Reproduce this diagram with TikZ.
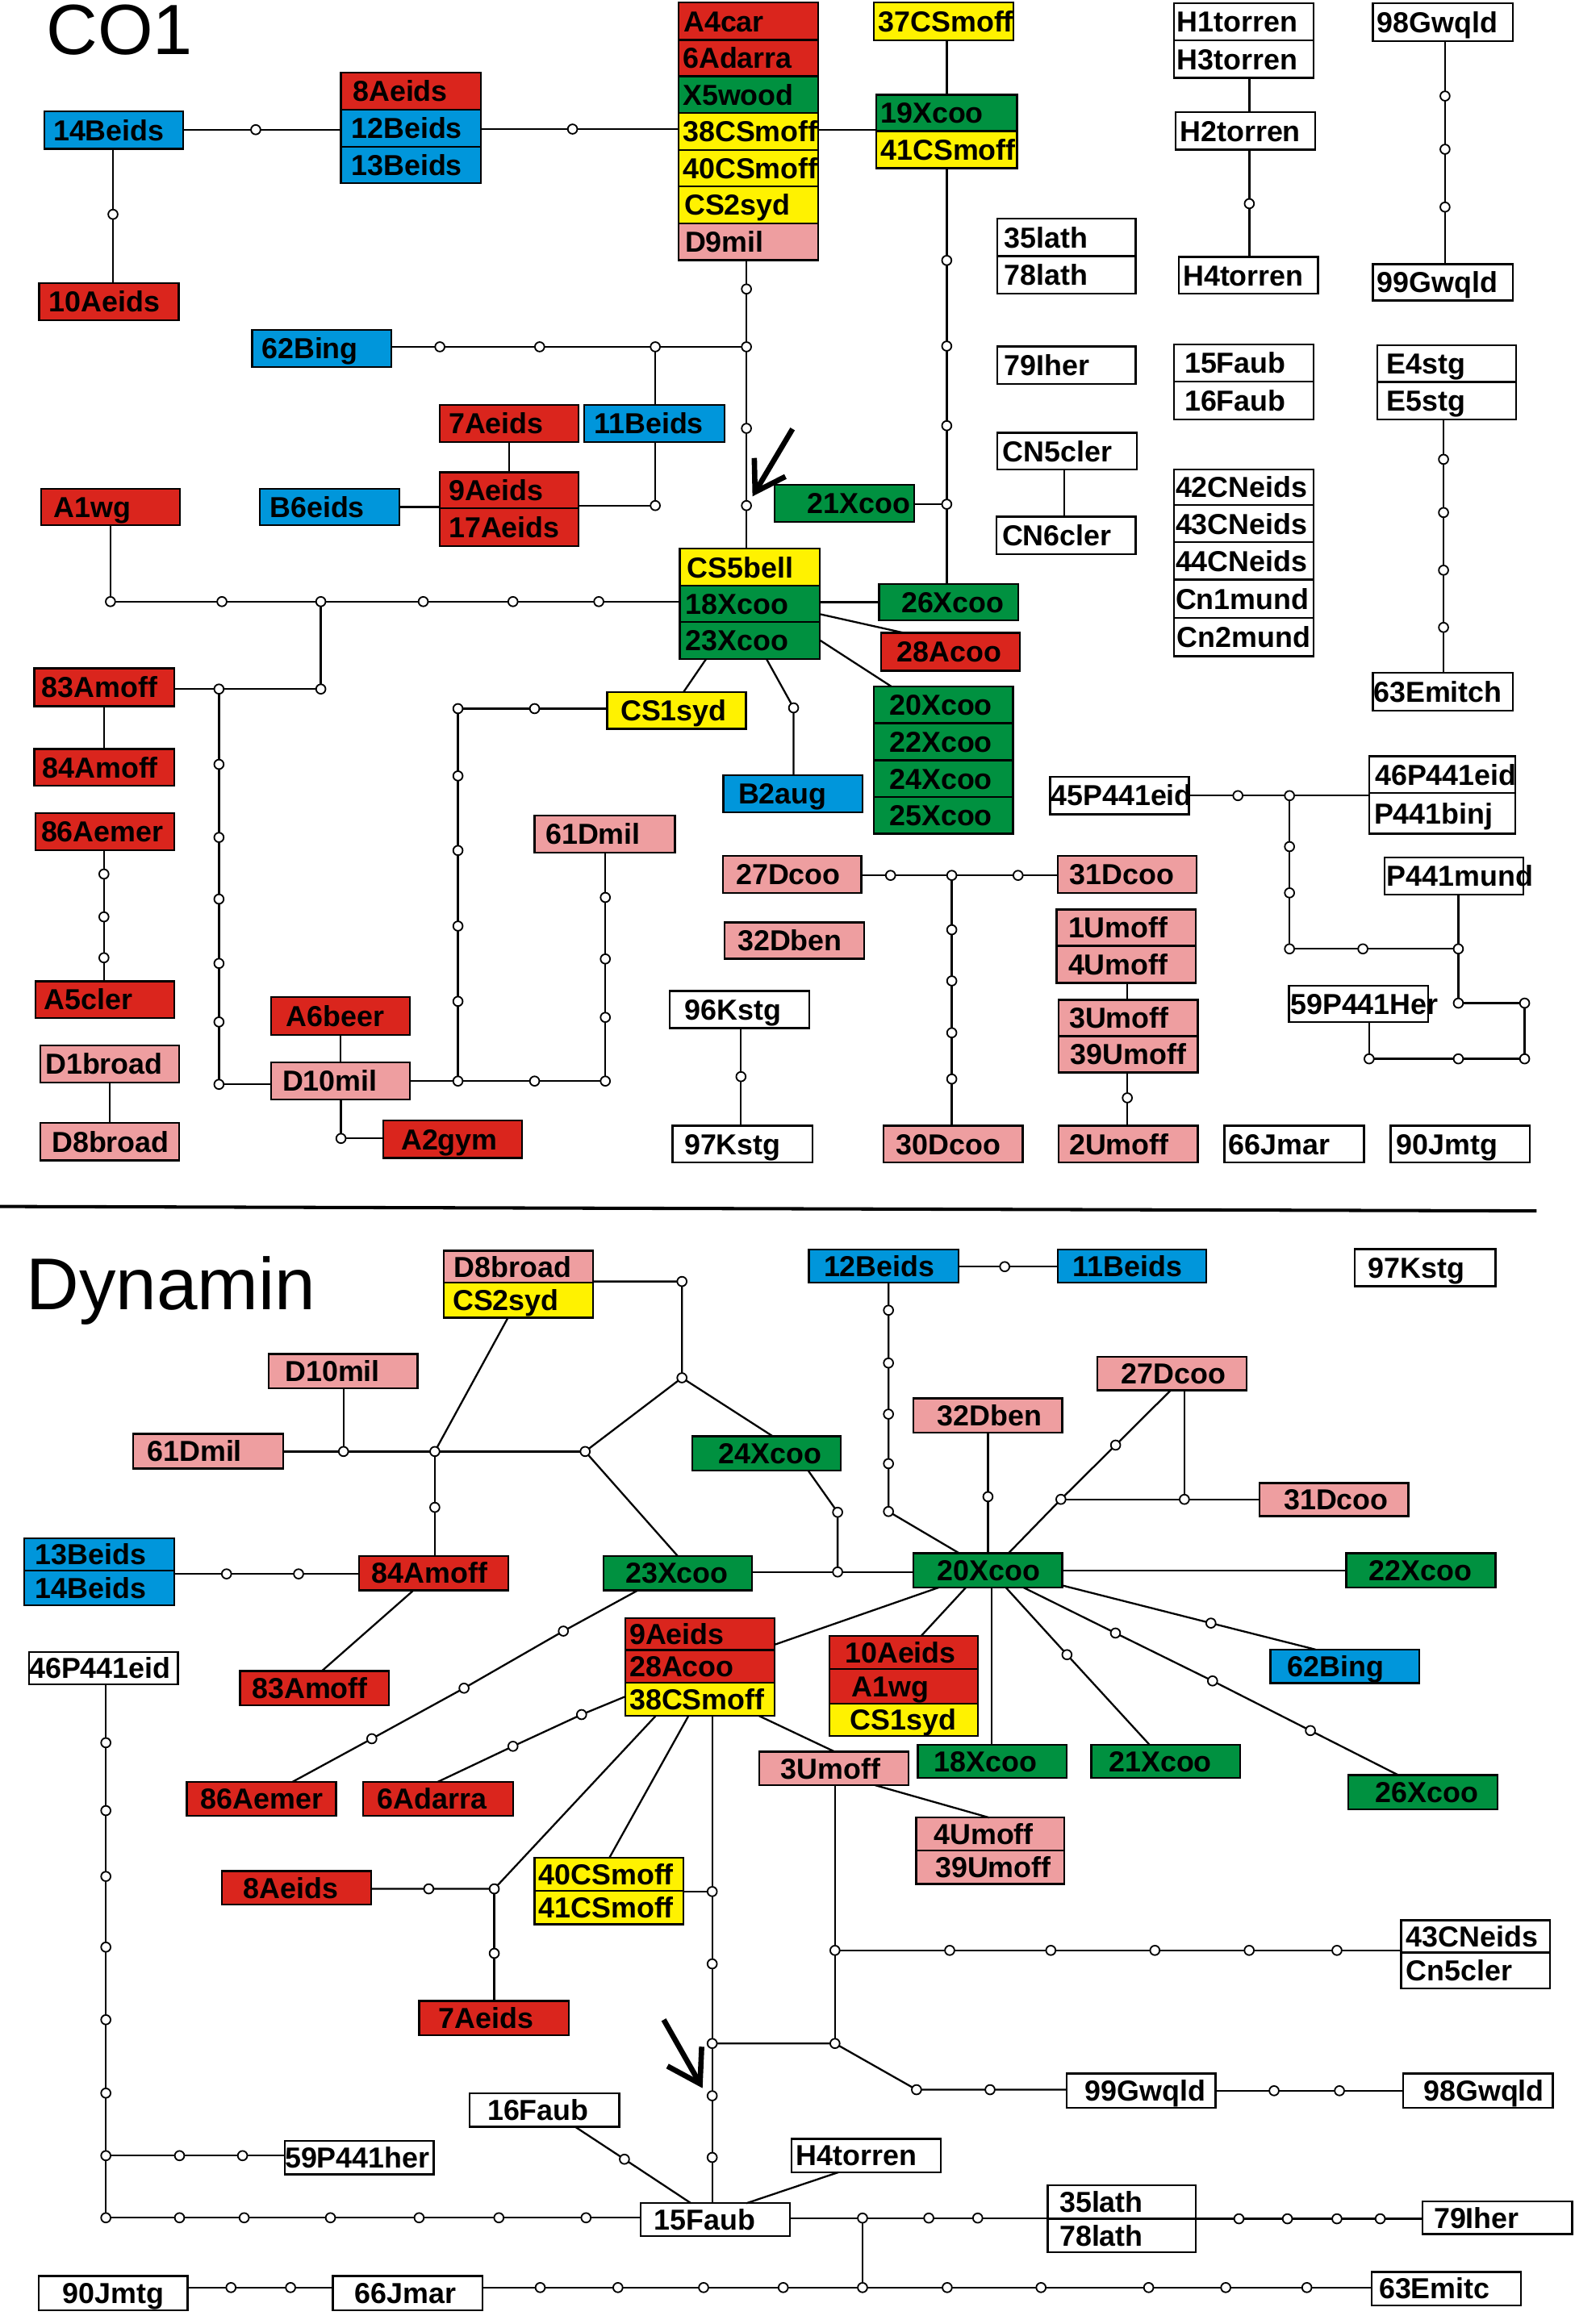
\documentclass[tikz,border=0pt]{standalone}
\usepackage{fontspec}
\setmainfont{Liberation Sans}
\usetikzlibrary{calc}
\definecolor{cR}{RGB}{218,37,29}
\definecolor{cB}{RGB}{0,150,219}
\definecolor{cG}{RGB}{0,145,64}
\definecolor{cY}{RGB}{255,242,0}
\definecolor{cP}{RGB}{238,158,160}
\newcommand\lab{\bfseries\fontsize{19.5}{20}\selectfont}
\tikzset{
  bxs/.style={draw=black, line width=1.3pt, inner ysep=0pt, outer sep=0pt, align=left, text height=14pt, text depth=0pt, font=\lab},
  dotn/.style={circle, draw=black, fill=white, line width=1pt, minimum size=6.4pt, inner sep=0pt, outer sep=0pt},
  ln/.style={line width=1.25pt, black},
  bigarr/.style={line width=3.6pt, line join=miter, black}
}
\newcommand\bx[8]{%
  \pgfmathsetmacro\bxw{#4-#2}%
  \pgfmathsetmacro\bxh{#5-#3}%
  \pgfmathsetmacro\bxt{#4-#2-2*#6}%
  \node[bxs,fill=#7,minimum width=\bxw pt,minimum height=\bxh pt,text width=\bxt pt,inner xsep=#6pt,anchor=north west] (#1) at (#2,#3) {#8};}
\newcommand\dt[3]{\node[dotn] (#1) at (#2,#3) {};}
\begin{document}
\begin{tikzpicture}[x=1pt,y=-1pt]
\useasboundingbox (0,0) rectangle (1062,1568);
\fill[white] (0,0) rectangle (1062,1568);
% titles
\node[anchor=base west, inner sep=0pt, font=\fontsize{48}{50}\selectfont] (ttl1) at (31,37) {CO1};
\node[anchor=base west, inner sep=0pt, font=\fontsize{49.5}{52}\selectfont] (ttl2) at (17.5,883.7) {Dynamin};
% divider
\coordinate (dv1) at (0,814); \coordinate (dv2) at (1036.4,817);
\draw[line width=2.2pt] (dv1) -- (dv2);

% ================= TOP (CO1) boxes =================
\bx{t14B}{30}{75}{123.5}{100.5}{6}{cB}{14Beids}
\bx{t8A}{230}{49}{324.5}{74}{8}{cR}{8Aeids}
\bx{t12B}{230}{74}{324.5}{99}{7}{cB}{12Beids}
\bx{t13B}{230}{99}{324.5}{123.5}{7}{cB}{13Beids}
\bx{t10A}{26.5}{191}{120.5}{216}{6.5}{cR}{10Aeids}
\bx{t62B}{170}{222.5}{264}{247.7}{6.5}{cB}{62Bing}
\bx{tA4}{457.6}{1.8}{551.8}{27}{3.5}{cR}{A4car}
\bx{t6A}{457.6}{27}{551.8}{51.4}{3}{cR}{6Adarra}
\bx{tX5}{457.6}{51.4}{551.8}{76.2}{3}{cG}{X5wood}
\bx{t38}{457.6}{76.2}{551.8}{101.2}{3}{cY}{38CSmoff}
\bx{t40}{457.6}{101.2}{551.8}{125.6}{3}{cY}{40CSmoff}
\bx{tCS2}{457.6}{125.6}{551.8}{150.6}{4}{cY}{CS2syd}
\bx{tD9}{457.6}{150.6}{551.8}{175.6}{4.5}{cP}{D9mil}
\bx{t37}{589.5}{1.8}{683.7}{27.2}{3}{cY}{37CSmoff}
\bx{t19X}{591}{63.9}{686}{88.5}{3}{cG}{19Xcoo}
\bx{t41}{591}{88.5}{686}{113.4}{3}{cY}{41CSmoff}
\bx{tH1}{792}{2.2}{886}{27.2}{2}{white}{H1torren}
\bx{tH3}{792}{27.2}{886}{52.6}{2}{white}{H3torren}
\bx{tH2}{793}{75.7}{887}{101}{3}{white}{H2torren}
\bx{tH4}{795}{173.3}{889}{198.2}{3}{white}{H4torren}
\bx{t98G}{926}{2.2}{1020.5}{27.6}{3}{white}{98Gwqld}
\bx{t99G}{926}{178.2}{1020.5}{202.7}{3}{white}{99Gwqld}
\bx{t35l}{672.8}{147.5}{766}{172.7}{4.5}{white}{35lath}
\bx{t78l}{672.8}{172.7}{766}{198.2}{4.5}{white}{78lath}
\bx{t79I}{672.8}{233.7}{766}{259.1}{4.5}{white}{79Iher}
\bx{t15F}{792}{232.3}{886}{257.4}{7}{white}{15Faub}
\bx{t16F}{792}{257.4}{886}{283}{7}{white}{16Faub}
\bx{tE4}{929}{232.8}{1022.6}{257.7}{6.5}{white}{E4stg}
\bx{tE5}{929}{257.7}{1022.6}{283}{6.5}{white}{E5stg}
\bx{tCN5}{672.8}{292}{767}{316.8}{3.6}{white}{CN5cler}
\bx{tCN6}{672}{348.6}{766}{374}{4}{white}{CN6cler}
\bx{tC42}{792}{316.8}{886}{340.8}{1}{white}{42CNeids}
\bx{tC43}{792}{340.8}{886}{365.8}{1}{white}{43CNeids}
\bx{tC44}{792}{365.8}{886}{391}{1}{white}{44CNeids}
\bx{tCn1}{792}{391}{886}{417}{1}{white}{Cn1mund}
\bx{tCn2}{792}{417}{886}{442.7}{2}{white}{Cn2mund}
\bx{t63E}{926}{454}{1020.5}{479.4}{0.5}{white}{63Emitch}
\bx{t21X}{522.6}{327.2}{616.6}{352}{22}{cG}{21Xcoo}
\bx{t26X}{593}{394}{686.7}{418.6}{15}{cG}{26Xcoo}
\bx{t28A}{594.2}{427}{688}{452.5}{11}{cR}{28Acoo}
\bx{t20X}{589.5}{463}{683.2}{488}{10.5}{cG}{20Xcoo}
\bx{t22X}{589.5}{488}{683.2}{513}{10.5}{cG}{22Xcoo}
\bx{t24X}{589.5}{513}{683.2}{537.8}{10.5}{cG}{24Xcoo}
\bx{t25X}{589.5}{537.8}{683.2}{562.5}{10.5}{cG}{25Xcoo}
\bx{tB2}{488}{523}{581.8}{548}{10}{cB}{B2aug}
\bx{t45P}{708.4}{524}{802}{549.4}{0.5}{white}{45P441eid}
\bx{t46P}{923.5}{510.3}{1022}{535}{4}{white}{46P441eid}
\bx{tP441b}{923.5}{535}{1022}{562.5}{3.4}{white}{P441binj}
\bx{tP441m}{933.8}{578.5}{1027.4}{603.7}{1.7}{white}{P441mund}
\bx{t59P}{869.4}{665}{963.3}{689.5}{1}{white}{59P441Her}
\bx{t27D}{487.5}{577.4}{581}{602.6}{9}{cP}{27Dcoo}
\bx{t31D}{713.6}{577.4}{807.2}{602.6}{8}{cP}{31Dcoo}
\bx{t32D}{488.6}{622.4}{582.8}{646.9}{9}{cP}{32Dben}
\bx{t1U}{712.6}{613.7}{806.5}{638.2}{8}{cP}{1Umoff}
\bx{t4U}{712.6}{638.2}{806.5}{663.2}{8}{cP}{4Umoff}
\bx{t3U}{714.2}{674.6}{807.9}{699}{7}{cP}{3Umoff}
\bx{t39U}{714.2}{699}{807.9}{723.5}{8}{cP}{39Umoff}
\bx{t2U}{714.2}{759.4}{807.9}{784.3}{7}{cP}{2Umoff}
\bx{t30D}{595.9}{759.4}{689.8}{784.3}{8.6}{cP}{30Dcoo}
\bx{t66J}{825.8}{759.4}{920}{784.3}{3}{white}{66Jmar}
\bx{t90J}{938}{759.4}{1031.9}{784.3}{4}{white}{90Jmtg}
\bx{t96K}{451.8}{668.6}{546}{693.7}{10}{white}{96Kstg}
\bx{t97K}{453.6}{759.4}{548}{784.3}{8}{white}{97Kstg}
\bx{t86A}{23.8}{548.7}{117.7}{573.6}{4}{cR}{86Aemer}
\bx{tA5}{23.8}{662}{117.7}{686.8}{6}{cR}{A5cler}
\bx{tD1}{27.2}{705.3}{120.8}{730.4}{3.4}{cP}{D1broad}
\bx{tD8}{27.2}{757.6}{120.8}{783}{7.8}{cP}{D8broad}
\bx{tD10}{183}{716.7}{276.6}{741.8}{7.5}{cP}{D10mil}
\bx{tA6}{183}{672.8}{276.6}{698.2}{10}{cR}{A6beer}
\bx{tA2}{258.6}{756}{352.2}{781.2}{12}{cR}{A2gym}
\bx{t61D}{360.6}{550.4}{455.2}{575.2}{7.4}{cP}{61Dmil}
\bx{t7A}{296.7}{273.1}{390.3}{298.3}{6}{cR}{7Aeids}
\bx{t11B}{394}{273.1}{488.9}{298.3}{6.8}{cB}{11Beids}
\bx{t9A}{296.7}{318.6}{390.3}{343}{6}{cR}{9Aeids}
\bx{t17A}{296.7}{343}{390.3}{368.4}{6}{cR}{17Aeids}
\bx{tB6}{175.2}{329.7}{269.5}{354.4}{6.8}{cB}{B6eids}
\bx{tA1}{27.9}{329.7}{121.5}{354.4}{8.5}{cR}{A1wg}
\bx{t83A}{23.1}{451}{117.4}{476.5}{5}{cR}{83Amoff}
\bx{t84A}{23.1}{505.4}{117.4}{530.2}{5.5}{cR}{84Amoff}
\bx{tCS5}{458.6}{370.2}{552.8}{395.2}{5}{cY}{CS5bell}
\bx{t18X}{458.6}{395.2}{552.8}{419.7}{4}{cG}{18Xcoo}
\bx{t23X}{458.6}{419.7}{552.8}{444.6}{4}{cG}{23Xcoo}
\bx{tCS1}{409.6}{467}{503.2}{491.7}{9}{cY}{CS1syd}

% ================= TOP dots =================
\dt{a1}{172.5}{87.5}
\dt{a2}{386.2}{87.1}
\dt{a4}{76.2}{144.6}
\dt{b1}{638.6}{175.7} \dt{b2}{638.6}{233.5} \dt{b3}{638.6}{287.2} \dt{b4}{638.6}{340.2}
\dt{c1}{503.5}{195} \dt{c2}{503.5}{234} \dt{c3}{503.5}{289} \dt{c4}{503.5}{341.1}
\dt{c5}{296.7}{234} \dt{c6}{364}{234} \dt{c7}{442}{234} \dt{c8}{442}{341.1}
\dt{d1}{74.5}{405.9} \dt{d2}{149.7}{405.9} \dt{d3}{216.4}{405.9} \dt{d4}{285.5}{405.9} \dt{d5}{346}{405.9} \dt{d6}{403.9}{405.9}
\dt{e1}{216.4}{464.9} \dt{e2}{147.7}{464.9} \dt{e3}{147.7}{515.7} \dt{e4}{147.7}{565} \dt{e5}{147.7}{606.6} \dt{e6}{147.7}{650} \dt{e7}{147.7}{689.5} \dt{e8}{147.7}{731.6}
\dt{f1}{70.1}{589.7} \dt{f2}{70.1}{618.6} \dt{f3}{70.1}{646.2}
\dt{g1}{230}{768.1} \dt{g2}{308.9}{729.4} \dt{g3}{360.6}{729.4} \dt{g4}{408.3}{729.4}
\dt{g5}{408.3}{686.4} \dt{g6}{408.3}{647} \dt{g7}{408.3}{605.5}
\dt{h1}{308.9}{675.6} \dt{h2}{308.9}{624.8} \dt{h3}{308.9}{573.8} \dt{h4}{308.9}{523.5} \dt{h5}{308.9}{478.1} \dt{h6}{360.6}{478.1}
\dt{h7}{535.3}{477.6}
\dt{i1}{842.7}{137.4}
\dt{i2}{974.7}{64.8} \dt{i3}{974.7}{100.7} \dt{i4}{974.7}{139.7}
\dt{i5}{973.7}{309.9} \dt{i6}{973.7}{345.8} \dt{i7}{973.7}{384.7} \dt{i8}{973.7}{423.3}
\dt{j1}{600.7}{590.6} \dt{j2}{642}{590.6} \dt{j3}{686.7}{590.6}
\dt{j4}{642}{627.3} \dt{j5}{642}{661.8} \dt{j6}{642}{696.8} \dt{j7}{642}{728}
\dt{k1}{760.4}{740.7} \dt{k2}{499.8}{726.4}
\dt{l1}{835}{536.8} \dt{l2}{869.8}{536.8} \dt{l3}{869.8}{571.2} \dt{l4}{869.8}{602.4} \dt{l5}{869.8}{640.2}
\dt{l6}{919.3}{640.2} \dt{l7}{983.7}{640.2} \dt{l8}{983.7}{676.8} \dt{l9}{1028.4}{676.8}
\dt{l10}{1028.4}{714.4} \dt{l11}{983.7}{714.4} \dt{l12}{923.5}{714.4}
\coordinate (a3) at (570,87.5);
\coordinate (a5) at (638.6,40);
\coordinate (i9) at (718,330);

% ================= TOP connectors =================
\draw[ln] (t14B.east |- a1) -- (a1) -- (t12B.west |- a1);
\draw[ln] (t12B.east |- a2) -- (a2) -- (t38.west |- a2);
\draw[ln] (t38.east |- a3) -- (t19X.west |- a3);
\draw[ln] (t14B.south -| a4) -- (a4) -- (t10A.north -| a4);
\draw[ln] (t37.south -| a5) -- (t19X.north -| a5);
\draw[ln] (t41.south -| b1) -- (b1) -- (b2) -- (b3) -- (b4) -- (t26X.north -| b4);
\draw[ln] (t21X.east |- b4) -- (b4);
\draw[ln] (tD9.south -| c1) -- (c1) -- (c2) -- (c3) -- (c4) -- (tCS5.north -| c4);
\draw[ln] (t62B.east |- c5) -- (c5) -- (c6) -- (c7) -- (c2);
\draw[ln] (c7) -- (t11B.north -| c7);
\draw[ln] (t11B.south -| c8) -- (c8) -- (t9A.east |- c8);
\draw[ln] (t7A.south) -- (t9A.north);
\draw[ln] (tB6.east) -- (tB6.east -| t9A.west);
\draw[ln] (tA1.south -| d1) -- (d1) -- (d2) -- (d3) -- (d4) -- (d5) -- (d6) -- (t18X.west |- d6);
\draw[ln] (d3) -- (e1) -- (e2) -- (t83A.east |- e2);
\draw[ln] (t83A.south) -- (t84A.north);
\draw[ln] (e2) -- (e3) -- (e4) -- (e5) -- (e6) -- (e7) -- (e8) -- (tD10.west |- e8);
\draw[ln] (t86A.south -| f1) -- (f1) -- (f2) -- (f3) -- (tA5.north -| f1);
\draw[ln] (tD1.south) -- (tD8.north);
\draw[ln] (tA6.south) -- (tD10.north);
\draw[ln] (tD10.south -| g1) -- (g1) -- (tA2.west |- g1);
\draw[ln] (tD10.east |- g2) -- (g2) -- (g3) -- (g4) -- (g5) -- (g6) -- (g7) -- (t61D.south -| g7);
\draw[ln] (g2) -- (h1) -- (h2) -- (h3) -- (h4) -- (h5) -- (h6) -- (tCS1.west |- h6);
\draw[ln] ($(t23X.south west)+(17.7,0)$) -- ($(tCS1.north west)+(51.4,0)$);
\draw[ln] ($(t23X.south west)+(58.4,0)$) -- (h7) -- (tB2.north -| h7);
\draw[ln] (t26X.west -| t18X.east) -- (t26X.west);
\draw[ln] ($(t18X.south east)+(0,-5.4)$) -- ($(t28A.north west)+(15.5,0)$);
\draw[ln] ($(t23X.north east)+(0,12.1)$) -- ($(t20X.north west)+(11.5,0)$);
\draw[ln] (tH3.south -| i1) -- (tH2.north -| i1);
\draw[ln] (tH2.south -| i1) -- (i1) -- (tH4.north -| i1);
\draw[ln] (t98G.south -| i2) -- (i2) -- (i3) -- (i4) -- (t99G.north -| i4);
\draw[ln] (tE5.south -| i5) -- (i5) -- (i6) -- (i7) -- (i8) -- (t63E.north -| i8);
\draw[ln] (tCN5.south -| i9) -- (tCN6.north -| i9);
\draw[ln] (t27D.east |- j1) -- (j1) -- (j2) -- (j3) -- (t31D.west |- j3);
\draw[ln] (j2) -- (j4) -- (j5) -- (j6) -- (j7) -- (t30D.north -| j7);
\draw[ln] (t4U.south -| k1) -- (t3U.north -| k1);
\draw[ln] (t39U.south -| k1) -- (k1) -- (t2U.north -| k1);
\draw[ln] (t96K.south -| k2) -- (k2) -- (t97K.north -| k2);
\draw[ln] (t45P.east |- l1) -- (l1) -- (l2) -- (tP441b.west |- l2);
\draw[ln] (l2) -- (l3) -- (l4) -- (l5) -- (l6) -- (l7);
\draw[ln] (tP441m.south -| l7) -- (l7) -- (l8) -- (l9) -- (l10) -- (l11) -- (l12) -- (t59P.south -| l12);
% top arrow
\coordinate (ar1) at (534.6,289.4); \coordinate (ar2) at (509.3,332);
\coordinate (ar3) at (529.8,321.5); \coordinate (ar4) at (508.8,309);
\draw[bigarr] (ar1) -- (ar2);
\draw[bigarr] (ar3) -- (ar2) -- (ar4);

% ================= BOTTOM (Dynamin) boxes =================
\bx{bD8}{299.4}{843.8}{400.1}{865.5}{7}{cP}{D8broad}
\bx{bCS2}{299.4}{865.5}{400.1}{889.1}{6}{cY}{CS2syd}
\bx{bD10}{181.3}{913.6}{281.7}{936.7}{11}{cP}{D10mil}
\bx{b61D}{89.8}{967.5}{190.9}{990.7}{9.5}{cP}{61Dmil}
\bx{b13B}{16.3}{1037.9}{117.4}{1059.7}{7.5}{cB}{13Beids}
\bx{b14B}{16.3}{1059.7}{117.4}{1083}{7.5}{cB}{14Beids}
\bx{b84A}{242.2}{1049.7}{342.9}{1072.9}{8.5}{cR}{84Amoff}
\bx{b23X}{407.2}{1049.7}{507.3}{1072.9}{14.7}{cG}{23Xcoo}
\bx{b24X}{466.8}{969}{567.2}{992}{18}{cG}{24Xcoo}
\bx{b12B}{545.7}{843.2}{646.5}{865.5}{10}{cB}{12Beids}
\bx{b11B}{713.6}{843.2}{813.7}{865.5}{10}{cB}{11Beids}
\bx{b97K}{913.8}{842.7}{1008.8}{867.7}{9}{white}{97Kstg}
\bx{b32D}{616.2}{943.5}{716.6}{966.6}{16}{cP}{32Dben}
\bx{b27D}{740.3}{915.4}{840.8}{938.1}{16}{cP}{27Dcoo}
\bx{b31D}{849.5}{1000.7}{949.9}{1022.9}{16.5}{cP}{31Dcoo}
\bx{b20X}{616.2}{1048}{716.6}{1071}{16}{cG}{20Xcoo}
\bx{b22X}{908}{1048}{1008.8}{1071}{15.4}{cG}{22Xcoo}
\bx{b46P}{19.7}{1114.5}{120.1}{1136.5}{0}{white}{46P441eid}
\bx{b83A}{162}{1127.4}{262.3}{1150.4}{8}{cR}{83Amoff}
\bx{b86A}{125.9}{1202.2}{226.6}{1225.2}{9.5}{cR}{86Aemer}
\bx{b6A}{245}{1202.2}{346}{1225.2}{9.5}{cR}{6Adarra}
\bx{b9A}{421.9}{1091.8}{522.6}{1113.2}{2.7}{cR}{9Aeids}
\bx{b28A}{421.9}{1113.2}{522.6}{1135.4}{2.7}{cR}{28Acoo}
\bx{b38}{421.9}{1135.4}{522.6}{1157.7}{2.7}{cY}{38CSmoff}
\bx{b8A}{149.7}{1262.4}{250.4}{1285.1}{14.6}{cR}{8Aeids}
\bx{b40}{360.6}{1253.5}{461}{1275.6}{2.8}{cY}{40CSmoff}
\bx{b41}{360.6}{1275.6}{461}{1298.3}{2.8}{cY}{41CSmoff}
\bx{b10A}{559.4}{1103.8}{659.6}{1125.9}{10.6}{cR}{10Aeids}
\bx{bA1}{559.4}{1125.9}{659.6}{1149.5}{15}{cR}{A1wg}
\bx{bCS1}{559.4}{1149.5}{659.6}{1171.3}{14}{cY}{CS1syd}
\bx{b18X}{619}{1177.3}{719.4}{1199.4}{11}{cG}{18Xcoo}
\bx{b21X}{736}{1177.3}{836.4}{1199.4}{12}{cG}{21Xcoo}
\bx{b62B}{857}{1112.9}{957.2}{1135.6}{11.4}{cB}{62Bing}
\bx{b26X}{909.4}{1197.6}{1010.2}{1220.8}{18.5}{cG}{26Xcoo}
\bx{b3U}{512}{1181.8}{612.7}{1204.5}{14.7}{cP}{3Umoff}
\bx{b4U}{617.9}{1226.3}{718}{1248.4}{12}{cP}{4Umoff}
\bx{b39U}{617.9}{1248.4}{718}{1271.1}{13}{cP}{39Umoff}
\bx{b43CN}{945.1}{1295.6}{1045.6}{1317.4}{3.5}{white}{43CNeids}
\bx{bCn5}{945.1}{1317.4}{1045.6}{1341.5}{3.5}{white}{Cn5cler}
\bx{b7A}{282.7}{1350}{383.8}{1373.2}{13.3}{cR}{7Aeids}
\bx{b59P}{192.2}{1444.4}{292.6}{1467.1}{0}{white}{59P441her}
\bx{b16F}{316.8}{1412.2}{417.8}{1434.9}{12}{white}{16Faub}
\bx{b15F}{432.1}{1486.5}{532.9}{1508.8}{9}{white}{15Faub}
\bx{bH4}{534}{1443}{634.7}{1465.6}{3}{white}{H4torren}
\bx{b99G}{719.4}{1399}{819.9}{1422.2}{12.4}{white}{99Gwqld}
\bx{b98G}{946.5}{1399}{1047.4}{1422.2}{13.8}{white}{98Gwqld}
\bx{b35l}{706.7}{1474.3}{806.5}{1497}{8}{white}{35lath}
\bx{b78l}{706.7}{1497}{806.5}{1519.7}{8}{white}{78lath}
\bx{b79I}{959.6}{1485.2}{1060.4}{1507.3}{7.6}{white}{79Iher}
\bx{b63E}{925.2}{1532.8}{1026}{1555.4}{5}{white}{63Emitc}
\bx{b90J}{26.2}{1535.7}{126.6}{1558.7}{16}{white}{90Jmtg}
\bx{b66J}{224.6}{1535.7}{325.3}{1558.7}{14.6}{white}{66Jmar}

% ================= BOTTOM dots =================
\dt{m1}{460}{864.6} \dt{m2}{460}{929.6} \dt{m3}{394.7}{979.3}
\dt{m4}{231.7}{979.3} \dt{m5}{293.3}{979.3} \dt{m6}{293.3}{1017}
\dt{n1}{152.8}{1061.9} \dt{n2}{201.4}{1061.9} \dt{n3}{565}{1060.6} \dt{n4}{565}{1020.3}
\dt{o1}{677.7}{854.6}
\dt{o2}{599.3}{884} \dt{o3}{599.3}{919.6} \dt{o4}{599.3}{954.1} \dt{o5}{599.3}{987.5} \dt{o6}{599.3}{1019.8}
\dt{o7}{666.4}{1009.8}
\dt{o8}{752.5}{975} \dt{o9}{715.6}{1011.6} \dt{o10}{798.9}{1011.6}
\dt{p1}{719.7}{1116.4}
\dt{p2}{752.4}{1101.8} \dt{p3}{817.9}{1134.1} \dt{p4}{883.9}{1167.6}
\dt{p5}{816.8}{1095.1}
\dt{q1}{250.8}{1173.1} \dt{q2}{313}{1139} \dt{q3}{380}{1100.5}
\dt{q4}{346}{1178.2} \dt{q5}{392.3}{1156.8}
\dt{r1}{289.2}{1274.4} \dt{r2}{333.4}{1274.4} \dt{r3}{333.4}{1317.9}
\dt{s1}{480.4}{1276.2} \dt{s2}{480.4}{1325} \dt{s3}{480.4}{1378.7} \dt{s4}{480.4}{1414} \dt{s5}{480.4}{1455.6}
\dt{u1}{563.2}{1315.9} \dt{u2}{640.6}{1315.9} \dt{u3}{708.8}{1315.9} \dt{u4}{779}{1315.9} \dt{u5}{842.6}{1315.9} \dt{u6}{901.8}{1315.9}
\dt{u7}{563.2}{1378.7}
\dt{v1}{618.2}{1409.9} \dt{v2}{667.8}{1409.9}
\dt{v3}{859.4}{1410.6} \dt{v4}{903.5}{1410.6}
\dt{w1}{421.2}{1456.8}
\dt{x1}{71.4}{1175.8} \dt{x2}{71.4}{1221.6} \dt{x3}{71.4}{1266} \dt{x4}{71.4}{1313.7}
\dt{x5}{71.4}{1362.7} \dt{x6}{71.4}{1412.2} \dt{x7}{71.4}{1454.4} \dt{x8}{71.4}{1496.3}
\dt{y1}{121.1}{1454.4} \dt{y2}{163.6}{1454.4}
\dt{z1}{121.1}{1496.3} \dt{z2}{164.7}{1496.3} \dt{z3}{222.9}{1496.3} \dt{z4}{282.7}{1496.3} \dt{z5}{336.5}{1496.3} \dt{z6}{395.3}{1496.3}
\dt{aa1}{581.8}{1496.5} \dt{aa2}{626.5}{1496.5} \dt{aa3}{659.5}{1496.5}
\dt{ab1}{835.7}{1497} \dt{ab2}{868.4}{1497} \dt{ab3}{901.8}{1497} \dt{ab4}{931}{1497}
\dt{ac1}{155.8}{1543.4} \dt{ac2}{196}{1543.4} \dt{ac3}{364.4}{1543.4} \dt{ac4}{416.8}{1543.4}
\dt{ac5}{474.6}{1543.4} \dt{ac6}{528.3}{1543.4} \dt{ac7}{581.8}{1543.4} \dt{ac8}{638.9}{1543.4}
\dt{ac9}{702.2}{1543.4} \dt{ac10}{774.8}{1543.4} \dt{ac11}{826.8}{1543.4} \dt{ac12}{881.5}{1543.4}

% ================= BOTTOM connectors =================
\draw[ln] (bD8.east |- m1) -- (m1) -- (m2) -- (m3);
\draw[ln] (m2) -- ($(b24X.north west)+(54.4,0)$);
\draw[ln] (b61D.east |- m4) -- (m4) -- (m5) -- (m3);
\draw[ln] (bD10.south -| m4) -- (m4);
\draw[ln] ($(bCS2.south west)+(43.2,0)$) -- (m5);
\draw[ln] (m3) -- ($(b23X.north west)+(49.8,0)$);
\draw[ln] (m5) -- (m6) -- (b84A.north -| m6);
\draw[ln] (b13B.east |- n1) -- (n1) -- (n2) -- (b84A.west |- n2);
\draw[ln] (b23X.east |- n3) -- (n3) -- (b20X.west |- n3);
\draw[ln] ($(b24X.south west)+(78.2,0)$) -- (n4) -- (n3);
\draw[ln] (b12B.east |- o1) -- (o1) -- (b11B.west |- o1);
\draw[ln] (b12B.south -| o2) -- (o2) -- (o3) -- (o4) -- (o5) -- (o6) -- ($(b20X.north west)+(30.9,0)$);
\draw[ln] (b32D.south -| o7) -- (o7) -- (b20X.north -| o7);
\draw[ln] ($(b27D.south west)+(49.3,0)$) -- (o8) -- (o9) -- ($(b20X.north west)+(64,0)$);
\draw[ln] (b27D.south -| o10) -- (o10);
\draw[ln] (o9) -- (o10) -- (b31D.west |- o10);
\draw[ln] (b20X.east) -- (b22X.west);
\draw[ln] ($(b20X.south west)+(17.2,0)$) -- ($(b9A.north east)+(0,17.8)$);
\draw[ln] ($(b20X.south west)+(35.4,0)$) -- ($(b10A.north west)+(61.9,0)$);
\draw[ln] ($(b20X.south west)+(52.6,0)$) -- ($(b18X.north west)+(49.8,0)$);
\draw[ln] ($(b20X.south west)+(62.2,0)$) -- (p1) -- ($(b21X.north west)+(39.5,0)$);
\draw[ln] ($(b20X.south west)+(74,0)$) -- (p2) -- (p3) -- (p4) -- ($(b26X.north west)+(33.7,0)$);
\draw[ln] ($(b20X.south east)+(0,-1.3)$) -- (p5) -- ($(b62B.north west)+(30.3,0)$);
\draw[ln] ($(b86A.north west)+(71.4,0)$) -- (q1) -- (q2) -- (q3) -- ($(b23X.south west)+(23.2,0)$);
\draw[ln] ($(b83A.north west)+(55.1,0)$) -- ($(b84A.south west)+(36.8,0)$);
\draw[ln] ($(b6A.north west)+(50.3,0)$) -- (q4) -- (q5) -- ($(b38.north west)+(0,9.2)$);
\draw[ln] (b8A.east |- r1) -- (r1) -- (r2) -- ($(b38.south west)+(20.4,0)$);
\draw[ln] (r2) -- (r3) -- (b7A.north -| r3);
\draw[ln] ($(b38.south west)+(42.5,0)$) -- ($(b40.north west)+(50.4,0)$);
\draw[ln] (b38.south -| s1) -- (s1) -- (s2) -- (s3) -- (s4) -- (s5) -- (b15F.north -| s5);
\draw[ln] (b40.east |- s1) -- (s1);
\draw[ln] ($(b38.south east)+(-10.6,0)$) -- ($(b3U.north west)+(50.9,0)$);
\draw[ln] ($(b3U.south west)+(78.4,0)$) -- ($(b4U.north west)+(49.2,0)$);
\draw[ln] (b3U.south -| u1) -- (u1) -- (u7);
\draw[ln] (u1) -- (u2) -- (u3) -- (u4) -- (u5) -- (u6) -- (b43CN.west |- u6);
\draw[ln] (s3) -- (u7) -- (v1) -- (v2) -- (b99G.west |- v2);
\draw[ln] (b99G.east |- v3) -- (v3) -- (v4) -- (b98G.west |- v4);
\draw[ln] ($(b16F.south west)+(71.1,0)$) -- (w1) -- ($(b15F.north west)+(34,0)$);
\draw[ln] ($(bH4.south west)+(31.6,0)$) -- ($(b15F.north west)+(71.4,0)$);
\draw[ln] (b46P.south -| x1) -- (x1) -- (x2) -- (x3) -- (x4) -- (x5) -- (x6) -- (x7) -- (x8);
\draw[ln] (x7) -- (y1) -- (y2) -- (b59P.west |- y2);
\draw[ln] (x8) -- (z1) -- (z2) -- (z3) -- (z4) -- (z5) -- (z6) -- (b15F.west |- z6);
\draw[ln] (b15F.east |- aa1) -- (aa1) -- (aa2) -- (aa3) -- (b35l.west |- aa3);
\draw[ln] (b35l.east |- ab1) -- (ab1) -- (ab2) -- (ab3) -- (ab4) -- (b79I.west |- ab4);
\draw[ln] (b90J.east |- ac1) -- (ac1) -- (ac2) -- (b66J.west |- ac2);
\draw[ln] (b66J.east |- ac3) -- (ac3) -- (ac4) -- (ac5) -- (ac6) -- (ac7) -- (ac8) -- (ac9) -- (ac10) -- (ac11) -- (ac12) -- (b63E.west |- ac12);
\draw[ln] (aa1) -- (ac7);
% bottom arrow
\coordinate (br1) at (447.7,1362.7); \coordinate (br2) at (472.2,1405.9);
\coordinate (br3) at (473.3,1380.9); \coordinate (br4) at (450.2,1394);
\draw[bigarr] (br1) -- (br2);
\draw[bigarr] (br3) -- (br2) -- (br4);
\end{tikzpicture}
\end{document}
